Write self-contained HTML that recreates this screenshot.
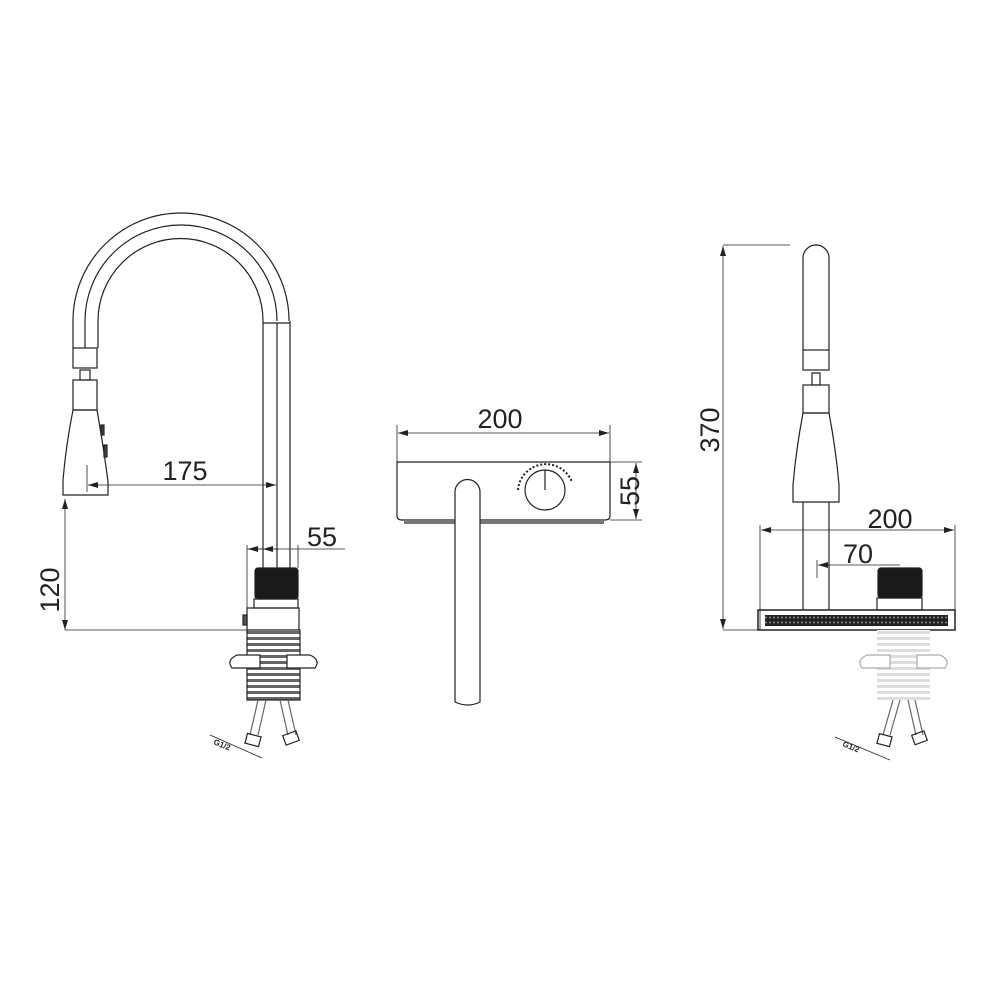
<!DOCTYPE html>
<html><head><meta charset="utf-8"><style>
html,body{margin:0;padding:0;background:#fff}
svg{display:block}
text{font-family:"Liberation Sans",sans-serif;fill:#222}
</style></head><body>
<svg width="1000" height="1000" viewBox="0 0 1000 1000" xmlns="http://www.w3.org/2000/svg">
<defs>
<marker id="a" viewBox="0 0 10 6" refX="10" refY="3" markerWidth="10" markerHeight="6" orient="auto-start-reverse" markerUnits="userSpaceOnUse"><path d="M0,0L10,3L0,6z" fill="#222"/></marker>
<pattern id="thr" width="6" height="6" patternUnits="userSpaceOnUse"><rect width="6" height="6" fill="#fff"/><rect y="1" width="6" height="3" fill="#666"/></pattern>
<pattern id="thrL" width="6" height="6" patternUnits="userSpaceOnUse"><rect width="6" height="6" fill="#fff"/><rect y="1" width="6" height="3" fill="#ddd"/></pattern>
<pattern id="zz" width="4" height="5" patternUnits="userSpaceOnUse"><rect width="4" height="5" fill="#222"/><circle cx="2" cy="2.5" r="1" fill="#888"/></pattern>
</defs>
<g fill="none" stroke="#222" stroke-width="1.2">
<path d="M73,348 L73,321 A108,108 0 0 1 289,321"/>
<path d="M85,348 L85,321 A96,96 0 0 1 277,321"/>
<path d="M98,348 L98,321 A82,82 0 0 1 263,321"/>
<line x1="263" y1="323" x2="290" y2="323"/>
<line x1="263" y1="321" x2="263" y2="568"/>
<line x1="277" y1="323" x2="277" y2="568"/>
<line x1="290" y1="321" x2="290" y2="568"/>
<rect x="73" y="348" width="24" height="20"/>
<rect x="80" y="370" width="10" height="10"/>
<rect x="73" y="380" width="24" height="30"/>
<path d="M73,410 L97,410 Q104,450 108,482 L108,495 L63,495 L63,480 Q66,445 73,410z"/>
<rect x="101" y="425" width="3" height="10" fill="#444"/>
<rect x="104" y="445" width="3" height="12" fill="#444"/>
<rect x="255" y="568" width="43" height="31" rx="3" fill="#1a1a1a"/>
<rect x="254" y="599" width="44" height="9"/>
<rect x="247" y="608" width="52" height="22"/>
<rect x="243" y="615" width="4" height="10" fill="#555"/>
<rect x="247" y="630" width="53" height="70" fill="url(#thr)"/>
<path d="M260,655 L237,655 Q226,660 232,668 L260,668 Z" fill="#fff"/>
<path d="M287,655 L310,655 Q321,660 315,668 L287,668 Z" fill="#fff"/>
<path d="M258,700 L250,735 M266,700 L258,735 M280,700 L288,735 M288,700 L296,735" stroke="#666"/>
<rect x="246" y="735" width="14" height="10" transform="rotate(15 253 740)"/>
<rect x="284" y="733" width="14" height="10" transform="rotate(-20 291 738)"/>
<line x1="210" y1="735" x2="262" y2="758" stroke-width="0.8"/>
<line x1="247" y1="545" x2="247" y2="608" stroke-width="0.8"/>
<line x1="298" y1="545" x2="298" y2="568" stroke-width="0.8"/>
<line x1="247" y1="549" x2="345" y2="549" stroke-width="0.8"/>
<line x1="262" y1="549" x2="248" y2="549" stroke-width="0.8" marker-end="url(#a)"/>
<line x1="278" y1="549" x2="263" y2="549" stroke-width="0.8" marker-end="url(#a)"/>
<line x1="87" y1="465" x2="87" y2="492" stroke-width="0.8"/>
<line x1="88" y1="485" x2="276" y2="485" stroke-width="0.8" marker-start="url(#a)" marker-end="url(#a)"/>
<line x1="65" y1="499" x2="65" y2="630" stroke-width="0.8" marker-start="url(#a)" marker-end="url(#a)"/>
<line x1="65" y1="630" x2="247" y2="630" stroke-width="0.8"/>

<line x1="397" y1="425" x2="397" y2="465" stroke-width="0.8"/>
<line x1="610" y1="425" x2="610" y2="465" stroke-width="0.8"/>
<line x1="398" y1="433" x2="609" y2="433" stroke-width="0.8" marker-start="url(#a)" marker-end="url(#a)"/>
<path d="M397,462 L610,462 L610,516 Q610,520 605,520 L402,520 Q397,520 397,516 Z"/>
<rect x="404" y="520" width="200" height="4" fill="#777" stroke="none"/>
<circle cx="545" cy="490" r="20"/>
<line x1="545" y1="470" x2="545" y2="490"/>
<path d="M518,490 A28,28 0 0 1 572,482" stroke-dasharray="2 2" stroke-width="2"/>
<path d="M455,702 L455,492 A12.5,12.5 0 0 1 480,492 L480,702 Q468,708 455,702z" fill="#fff"/>
<line x1="610" y1="462" x2="642" y2="462" stroke-width="0.8"/>
<line x1="610" y1="520" x2="642" y2="520" stroke-width="0.8"/>
<line x1="636" y1="463" x2="636" y2="519" stroke-width="0.8" marker-start="url(#a)" marker-end="url(#a)"/>

<line x1="723" y1="246" x2="723" y2="629" stroke-width="0.8" marker-start="url(#a)" marker-end="url(#a)"/>
<line x1="723" y1="245" x2="790" y2="245" stroke-width="0.8"/>
<line x1="723" y1="630" x2="760" y2="630" stroke-width="0.8"/>
<path d="M803,350 L803,258 A13,13 0 0 1 829,258 L829,350"/>
<rect x="803" y="350" width="26" height="20"/>
<rect x="812" y="373" width="8" height="12"/>
<rect x="803" y="385" width="26" height="28"/>
<path d="M803,413 L829,413 Q836,450 839,485 L839,502 L793,502 L793,485 Q796,450 803,413z"/>
<line x1="803" y1="502" x2="803" y2="610"/>
<line x1="829" y1="502" x2="829" y2="610"/>
<line x1="760" y1="525" x2="760" y2="630" stroke-width="0.8"/>
<line x1="955" y1="525" x2="955" y2="610" stroke-width="0.8"/>
<line x1="761" y1="530" x2="954" y2="530" stroke-width="0.8" marker-start="url(#a)" marker-end="url(#a)"/>
<line x1="817" y1="560" x2="817" y2="578" stroke-width="0.8"/>
<line x1="818" y1="565" x2="900" y2="565" stroke-width="0.8" marker-start="url(#a)"/>
<rect x="878" y="568" width="44" height="30" rx="3" fill="#1a1a1a"/>
<rect x="877" y="598" width="45" height="12"/>
<rect x="758" y="610" width="197" height="20" stroke-width="1.5"/>
<rect x="765" y="615" width="183" height="11" fill="url(#zz)" stroke="none"/>
<rect x="877" y="630" width="53" height="70" fill="url(#thrL)" stroke="none"/>
<path d="M890,655 L867,655 Q856,660 862,668 L890,668 Z" fill="#fff" stroke="#aaa"/>
<path d="M917,655 L940,655 Q951,660 945,668 L917,668 Z" fill="#fff" stroke="#aaa"/>
<path d="M893,700 L883,735 M900,700 L890,735 M908,700 L916,735 M915,700 L923,735" stroke="#666"/>
<rect x="878" y="735" width="13" height="10" transform="rotate(15 884 740)"/>
<rect x="913" y="733" width="13" height="10" transform="rotate(-20 919 738)"/>
<line x1="835" y1="737" x2="890" y2="760" stroke-width="0.8"/>
</g>
<g font-size="27">
<text x="185" y="480" text-anchor="middle">175</text>
<text x="322" y="546" text-anchor="middle">55</text>
<text x="500" y="428" text-anchor="middle">200</text>
<text x="890" y="528" text-anchor="middle">200</text>
<text x="858" y="563" text-anchor="middle">70</text>
<text transform="translate(59,590) rotate(-90)" text-anchor="middle">120</text>
<text transform="translate(719,430) rotate(-90)" text-anchor="middle">370</text>
<text transform="translate(639,491) rotate(-90)" text-anchor="middle">55</text>
</g>
<g font-size="8" font-weight="bold">
<text transform="translate(213,744) rotate(22)">G1/2</text>
<text transform="translate(842,746) rotate(22)">G1/2</text>
</g>
</svg>
</body></html>
